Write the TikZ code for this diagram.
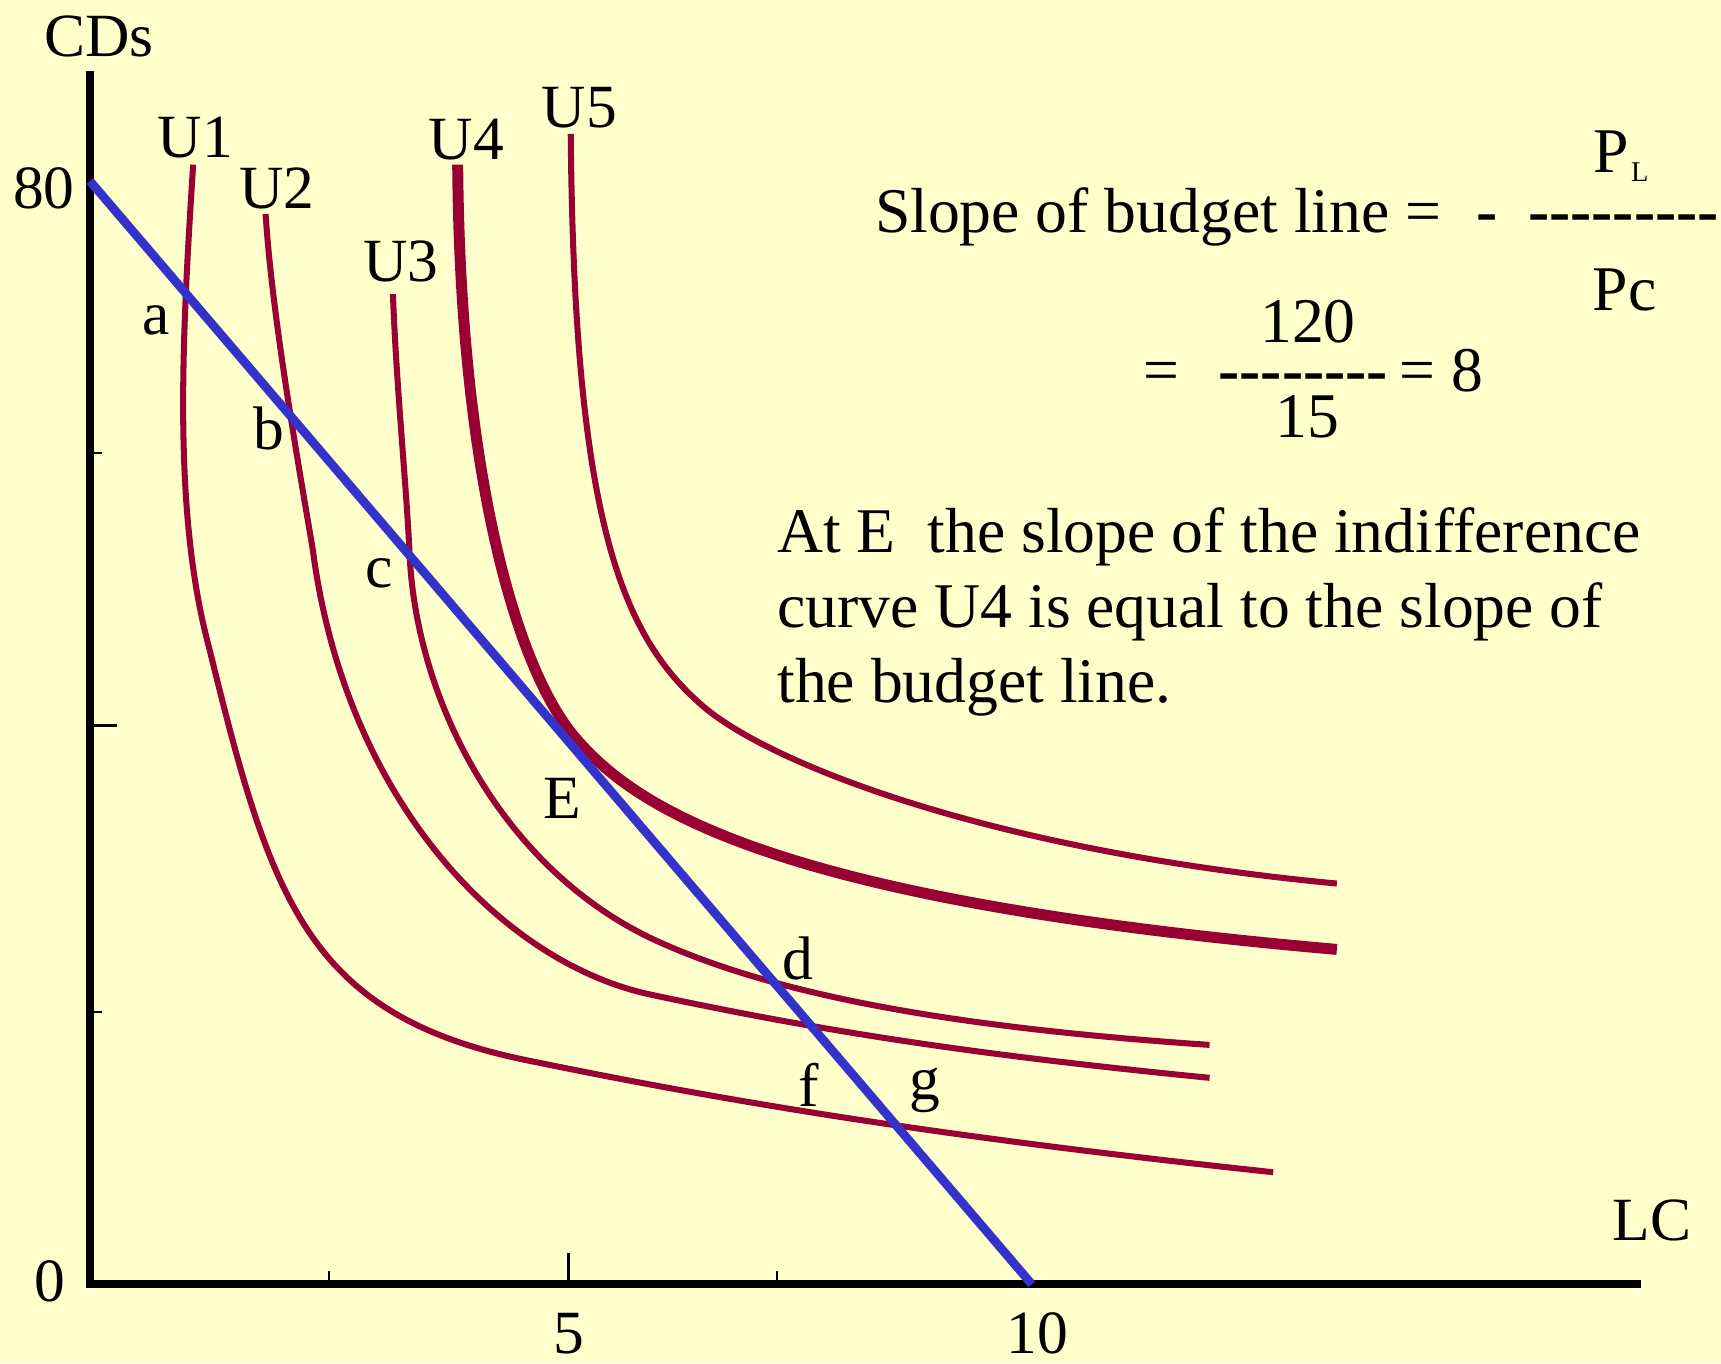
\documentclass[tikz,border=0pt]{standalone}
\usepackage{fontspec}
\setmainfont{Liberation Serif}
\definecolor{bg}{HTML}{FFFFCC}
\definecolor{ucol}{HTML}{990033}
\definecolor{bcol}{HTML}{3333CC}
\newcommand{\hy}{-\kern0pt}
\newcommand{\dashrow}[1]{{\bfseries\foreach \i in {1,...,#1}{\hy}}}
\begin{document}
\begin{tikzpicture}[x=1pt,y=-1pt,
  ucurve/.style={ucol, line width=5.5pt, line cap=butt},
  thickcurve/.style={ucurve, line width=10pt},
  axis/.style={black, line width=7pt},
  tick/.style={black, line width=2pt},
  lbl/.style={font=\fontsize{56}{68}\selectfont, inner sep=0pt},
  txt/.style={font=\fontsize{58}{68}\selectfont, inner sep=0pt, anchor=base west},
  sub/.style={font=\fontsize{26}{30}\selectfont, inner sep=0pt}]
\fill[bg] (0,0) rectangle (1568,1242);
\useasboundingbox (0,0) rectangle (1568,1242);

% axes
\coordinate (O) at (82,1170);
\coordinate (ytop) at (82,65);
\coordinate (xend) at (1495,1170);
\draw[axis] (ytop) -- (82,1173.5);
\draw[axis] (78.5,1170) -- (xend);
% ticks
\draw[tick] (82,413) -- (93,413);
\draw[tick] (82,661) -- (107,661);
\draw[tick] (82,922) -- (93,922);
\draw[tick] (300,1170) -- (300,1158);
\draw[tick] (518,1170) -- (518,1142);
\draw[tick] (708,1170) -- (708,1158);

% indifference curves
\draw[ucurve] (176,150) .. controls (165,320) and (158,470) .. (191,592)
  .. controls (247,820) and (280,925) .. (480,966)
  .. controls (660,1003) and (850,1035) .. (1160,1068);
\draw[ucurve] (242,195) .. controls (248,290) and (273,429) .. (285,501)
  .. controls (315,730) and (458,877) .. (592,906)
  .. controls (760,942) and (900,962) .. (1102,982);
\draw[ucurve] (358,268) .. controls (361,350) and (370,440) .. (373,501)
  .. controls (378,640) and (460,795) .. (600,858)
  .. controls (700,903) and (850,935) .. (1102,952);
\draw[thickcurve] (417,150) .. controls (419,430) and (470,609) .. (524,672)
  .. controls (578,735) and (700,820) .. (1218,865);
\draw[ucurve] (520,122) .. controls (523,470) and (565,578) .. (640,643)
  .. controls (700,695) and (900,775) .. (1218,805);

% budget line
\coordinate (B0) at (82,165);
\coordinate (B1) at (940,1170);
\draw[bcol, line width=8pt] (B0) -- (B1);

% labels
\node[lbl] (cds) at (90,33) {CDs};
\node[lbl] (l80) at (40,172) {80};
\node[lbl] (l0) at (45,1167) {0};
\node[lbl] (l5) at (518,1215) {5};
\node[lbl] (l10) at (945,1215) {10};
\node[lbl] (lc) at (1505,1112) {LC};
\node[lbl] (u1) at (178,125) {U1};
\node[lbl] (u2) at (252,172) {U2};
\node[lbl] (u3) at (365,238) {U3};
\node[lbl] (u4) at (425,127) {U4};
\node[lbl] (u5) at (528,98) {U5};
\node[lbl] (pa) at (142,292) {a};
\node[lbl] (pb) at (245,390) {b};
\node[lbl] (pc) at (345,522) {c};
\node[lbl] (pE) at (512,727) {E};
\node[lbl] (pd) at (727,873) {d};
\node[lbl] (pf) at (737,988) {f};
\node[lbl] (pg) at (843,993) {g};

% formula
\node[txt] (slope) at (797,212) {Slope of budget line =};
\node[txt] (minus) at (1345,212) {\bfseries\hy};
\node[txt] (dash1) at (1392,212) {\dashrow{9}};
\node[txt] (PL) at (1452,157) {P};
\node[sub] (Lsub) at (1494,157) {L};
\node[txt] (Pc) at (1451,283) {Pc};
\node[txt] (eq2) at (1042,357) {=};
\node[txt] (n120) at (1148,312) {120};
\node[txt] (dash2) at (1110,357) {\dashrow{8}};
\node[txt] (eq8) at (1275,357) {= 8};
\node[txt] (n15) at (1162,399) {15};

% paragraph
\node[txt] (line1) at (708,503) {At E\ \ the slope of the indifference};
\node[txt] (line2) at (708,572) {curve U4 is equal to the slope of};
\node[txt] (line3) at (708,640) {the budget line.};
\end{tikzpicture}
\end{document}
